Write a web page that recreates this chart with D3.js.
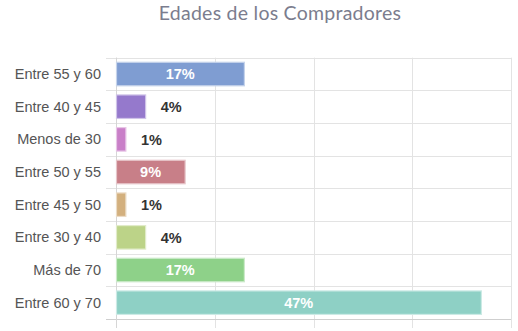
<!DOCTYPE html>
<html>
<head>
<meta charset="utf-8">
<script src="https://cdn.jsdelivr.net/npm/d3@7"></script>
<style>
html,body{margin:0;padding:0;background:#fff;}
svg{display:block;}
</style>
</head>
<body>
<svg id="chart" width="518" height="331"></svg>
<script>
const title = "Edades de los Compradores";
const categories = ["Entre 55 y 60","Entre 40 y 45","Menos de 30","Entre 50 y 55","Entre 45 y 50","Entre 30 y 40","Más de 70","Entre 60 y 70"];
const counts = [13, 3, 1, 7, 1, 3, 13, 37];
const colors = ["#7f9dd2","#9579cc","#c97fc8","#c87f88","#d3b07e","#bcd388","#8ed189","#8ed0c5"];
const xTicks = [0, 10, 20, 30, 40];

const total = d3.sum(counts);
const labels = counts.map(v => Math.round(v / total * 100) + "%");

const svg = d3.select("#chart");
const plotLeft = 116, plotRight = 511, plotTop = 57.7, plotBottom = 319;

const x = d3.scaleLinear().domain([0, 40]).range([plotLeft, plotRight]);
const y = d3.scaleBand().domain(categories).range([plotTop, plotBottom]);

// title
svg.append("text")
  .attr("x", 280).attr("y", 19.5)
  .attr("text-anchor", "middle")
  .attr("font-family", "Lato, 'Noto Sans', sans-serif")
  .attr("font-size", 19.5)
  .attr("letter-spacing", 0.25)
  .attr("fill", "#7b7d8e")
  .text(title);

// vertical grid lines (with tick extension below)
svg.append("g").selectAll("line").data(xTicks).join("line")
  .attr("x1", d => Math.round(x(d)) + 0.5).attr("x2", d => Math.round(x(d)) + 0.5)
  .attr("y1", plotTop).attr("y2", plotBottom + 9)
  .attr("stroke", "#e3e3e3").attr("stroke-width", 1);

// horizontal grid lines at band boundaries
const hLines = categories.map(c => y(c)).concat([plotBottom]);
svg.append("g").selectAll("line").data(hLines).join("line")
  .attr("x1", plotLeft - 10).attr("x2", plotRight)
  .attr("y1", d => Math.round(d) + 0.5).attr("y2", d => Math.round(d) + 0.5)
  .attr("stroke", (d, i) => i === hLines.length - 1 ? "#cfcfcf" : "#e3e3e3")
  .attr("stroke-width", 1);

// axis line
svg.append("line")
  .attr("x1", Math.round(x(0)) + 0.5).attr("x2", Math.round(x(0)) + 0.5)
  .attr("y1", plotTop).attr("y2", plotBottom + 9)
  .attr("stroke", "#d6d6d6");

// y labels
svg.append("g").selectAll("text").data(categories).join("text")
  .attr("x", 101)
  .attr("y", d => y(d) + y.bandwidth() / 2)
  .attr("dy", "0.35em")
  .attr("text-anchor", "end")
  .attr("font-family", "'Liberation Sans', Arial, sans-serif")
  .attr("font-size", 14.5)
  .attr("fill", "#555")
  .text(d => d);

// bars
const bh = y.bandwidth() * 0.72;
const data = categories.map((c, i) => ({c, v: counts[i], color: colors[i], label: labels[i]}));
svg.append("g").selectAll("rect").data(data).join("rect")
  .attr("x", x(0) + 0.5)
  .attr("y", d => y(d.c) + (y.bandwidth() - bh) / 2)
  .attr("width", d => x(d.v) - x(0) - 0.5)
  .attr("height", bh)
  .attr("fill", d => d.color)
  .attr("stroke", d => d3.interpolateRgb(d.color, "#fff")(0.55))
  .attr("stroke-width", 1.2);

// value labels
const inside = d => (x(d.v) - x(0)) > 50;
svg.append("g").selectAll("text").data(data).join("text")
  .attr("x", d => inside(d) ? (x(0) + x(d.v)) / 2 : x(d.v) + 15)
  .attr("y", d => y(d.c) + y.bandwidth() / 2)
  .attr("dy", "0.36em")
  .attr("text-anchor", d => inside(d) ? "middle" : "start")
  .attr("font-family", "'Liberation Sans', Arial, sans-serif")
  .attr("font-weight", "bold")
  .attr("font-size", 14.5)
  .attr("fill", d => inside(d) ? "#fff" : "#333")
  .text(d => d.label);
</script>
</body>
</html>
